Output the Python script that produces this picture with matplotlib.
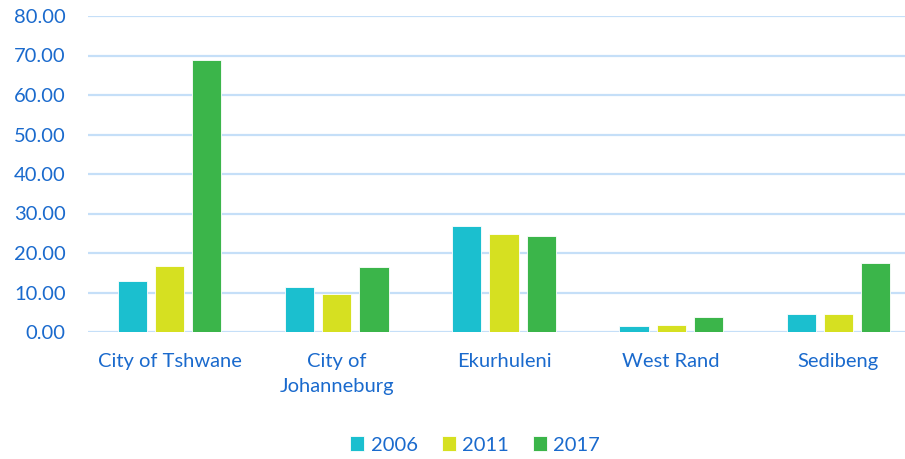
import matplotlib.pyplot as plt
import numpy as np

categories = ["City of Tshwane", "City of\nJohanneburg", "Ekurhuleni", "West Rand", "Sedibeng"]
years = ["2006", "2011", "2017"]
v2006 = [12.9, 11.4, 26.8, 1.4, 4.5]
v2011 = [16.8, 9.6, 24.8, 1.7, 4.5]
v2017 = [68.9, 16.5, 24.4, 3.8, 17.5]

COLORS = ["#1BBFCF", "#D6E021", "#3BB54A"]
TEXT = "#1A6ACD"

plt.rcParams["font.family"] = ["Lato", "DejaVu Sans"]

fig = plt.figure(figsize=(9.05, 4.59), dpi=100)
ax = fig.add_axes([88 / 905, 127 / 459, 1 - 88 / 905, (332 - 16) / 459])

x = np.arange(len(categories))
width = 0.174
step = 0.222
for i, (vals, year) in enumerate(zip([v2006, v2011, v2017], years)):
    ax.bar(x + (i - 1) * step, vals, width, color=COLORS[i], edgecolor="white",
           linewidth=0.6, label=year, zorder=3)

ax.set_ylim(0, 80)
ax.set_xlim(-0.49, 4.40)
ax.set_yticks(range(0, 81, 10))
ax.set_yticklabels([f"{v:.2f}" for v in range(0, 81, 10)])
ax.set_xticks(x)
ax.set_xticklabels(categories, linespacing=1.55)
ax.tick_params(axis="both", length=0, labelsize=14.5, labelcolor=TEXT)
ax.tick_params(axis="y", pad=16)
ax.tick_params(axis="x", pad=15)
ax.grid(axis="y", color="#C5DFF8", linewidth=1.6, zorder=0)
for s in ax.spines.values():
    s.set_visible(False)

fig.legend(loc="center", bbox_to_anchor=(475 / 905, 1 - 445 / 459), ncol=3,
           frameon=False, fontsize=14.5, labelcolor=TEXT, handlelength=0.7,
           handleheight=0.7, handletextpad=0.3, columnspacing=1.2)

fig.savefig("out.png", dpi=100, facecolor="white")
